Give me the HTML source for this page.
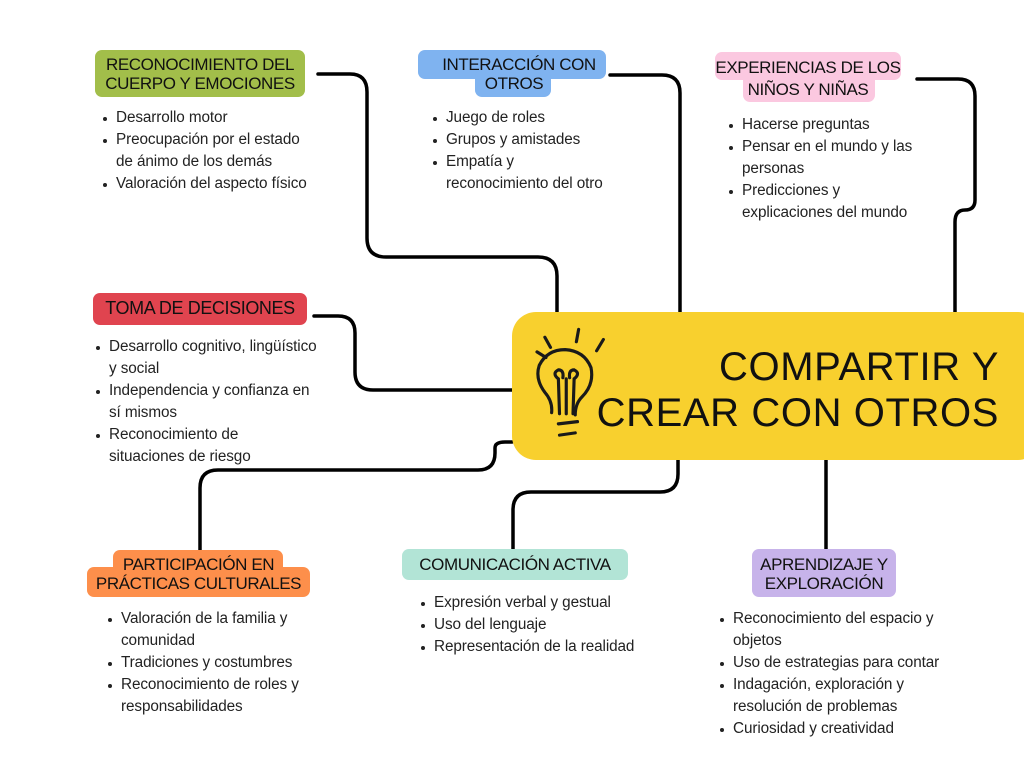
<!DOCTYPE html>
<html><head><meta charset="utf-8"><style>
body{margin:0;width:1024px;height:768px;background:#fff;position:relative;overflow:hidden;font-family:"Liberation Sans",sans-serif;color:#111}
.b{position:absolute}
.t{position:absolute;font-size:17px;line-height:19px;text-align:center;white-space:nowrap;letter-spacing:-0.4px}
.l{position:absolute;font-size:15.3px;line-height:22px;white-space:nowrap;color:#222;letter-spacing:-0.1px}
.l div{position:relative}
.l .d::before{content:"";position:absolute;left:-13px;top:10px;width:4px;height:4px;border-radius:2px;background:#222}
</style></head><body>
<svg class="b" style="left:0;top:0" width="1024" height="768">
<g fill="none" stroke="#000" stroke-width="3.5" stroke-linecap="round">
<path d="M318 74 H350 Q367 74 367 92 V238 Q367 257 386 257 H538 Q557 257 557 276 V312"/>
<path d="M610 75 H662 Q680 75 680 93 V312"/>
<path d="M917 79 H958 Q975 79 975 96 V200 Q975 210 965 210 Q955 210 955 222 V312"/>
<path d="M314 316 H338 Q355 316 355 333 V372 Q355 390 373 390 H512"/>
<path d="M200 550 V488 Q200 470 218 470 H478 Q495 470 495 453 V448 Q495 442 505 442 H512"/>
<path d="M513 550 V510 Q513 492 531 492 H660 Q678 492 678 474 V460"/>
<path d="M826 460 V550"/>
</g>
</svg>
<!-- central -->
<div class="b" style="left:512px;top:312px;width:530px;height:148px;background:#f8d02e;border-radius:24px"></div>
<svg class="b" style="left:528px;top:322px" width="90" height="125" viewBox="0 0 80 110" fill="none" stroke="#1a1a1a" stroke-width="2.8" stroke-linecap="round">
<path d="M15 13 L20 22 M45 6 L43 17 M67 15 L61 25 M8 26 L16 31"/>
<path d="M21 80 Q22 70 15 62 Q6 50 10 38 Q17 24 33 24 Q50 25 56 40 Q59 55 48 66 Q42 72 42 82"/>
<path d="M28 81 L27 50 M34 81 L34 50 M40 81 L41 50 M27 50 Q21 45 27 42 Q32 42 31 49 M41 50 Q47 45 41 42 Q36 42 37 49"/>
<path d="M27 90 L44 88 M28 100 L42 98"/>
</svg>
<div class="b" style="right:25px;top:344px;font-size:40px;line-height:46px;text-align:right;color:#111;letter-spacing:0.6px">COMPARTIR Y<br>CREAR CON OTROS</div>

<!-- green -->
<div class="b" style="left:95px;top:50px;width:210px;height:47px;background:#a2be4a;border-radius:7px"></div>
<div class="t" style="left:95px;top:55px;width:210px">RECONOCIMIENTO DEL<br>CUERPO Y EMOCIONES</div>
<div class="l" style="left:116px;top:107px"><div class="d">Desarrollo motor</div><div class="d">Preocupación por el estado</div><div>de ánimo de los demás</div><div class="d">Valoración del aspecto físico</div></div>

<!-- blue -->
<div class="b" style="left:418px;top:50px;width:188px;height:29px;background:#7fb3f0;border-radius:7px"></div>
<div class="b" style="left:475px;top:70px;width:76px;height:27px;background:#7fb3f0;border-radius:7px"></div>
<div class="t" style="left:425px;top:55px;width:188px">INTERACCIÓN CON<br><span style="margin-left:-10px">OTROS</span></div>
<div class="l" style="left:446px;top:107px"><div class="d">Juego de roles</div><div class="d">Grupos y amistades</div><div class="d">Empatía y</div><div>reconocimiento del otro</div></div>

<!-- pink -->
<div class="b" style="left:715px;top:52px;width:186px;height:28px;background:#fbc8e0;border-radius:7px"></div>
<div class="b" style="left:743px;top:72px;width:132px;height:30px;background:#fbc8e0;border-radius:7px"></div>
<div class="t" style="left:715px;top:57px;width:186px;line-height:22px">EXPERIENCIAS DE LOS<br>NIÑOS Y NIÑAS</div>
<div class="l" style="left:742px;top:114px"><div class="d">Hacerse preguntas</div><div class="d">Pensar en el mundo y las</div><div>personas</div><div class="d">Predicciones y</div><div>explicaciones del mundo</div></div>

<!-- red -->
<div class="b" style="left:93px;top:293px;width:214px;height:32px;background:#e0444f;border-radius:7px"></div>
<div class="t" style="left:93px;top:299px;width:214px;font-size:18px">TOMA DE DECISIONES</div>
<div class="l" style="left:109px;top:336px"><div class="d">Desarrollo cognitivo, lingüístico</div><div>y social</div><div class="d">Independencia y confianza en</div><div>sí mismos</div><div class="d">Reconocimiento de</div><div>situaciones de riesgo</div></div>

<!-- orange -->
<div class="b" style="left:113px;top:550px;width:170px;height:25px;background:#fd8f4b;border-radius:7px"></div>
<div class="b" style="left:87px;top:567px;width:223px;height:30px;background:#fd8f4b;border-radius:7px"></div>
<div class="t" style="left:87px;top:555px;width:223px">PARTICIPACIÓN EN<br>PRÁCTICAS CULTURALES</div>
<div class="l" style="left:121px;top:608px"><div class="d">Valoración de la familia y</div><div>comunidad</div><div class="d">Tradiciones y costumbres</div><div class="d">Reconocimiento de roles y</div><div>responsabilidades</div></div>

<!-- teal -->
<div class="b" style="left:402px;top:549px;width:226px;height:31px;background:#b2e4d6;border-radius:7px"></div>
<div class="t" style="left:402px;top:555px;width:226px">COMUNICACIÓN ACTIVA</div>
<div class="l" style="left:434px;top:592px"><div class="d">Expresión verbal y gestual</div><div class="d">Uso del lenguaje</div><div class="d">Representación de la realidad</div></div>

<!-- purple -->
<div class="b" style="left:752px;top:549px;width:144px;height:48px;background:#c7b3ea;border-radius:7px"></div>
<div class="t" style="left:752px;top:555px;width:144px">APRENDIZAJE Y<br>EXPLORACIÓN</div>
<div class="l" style="left:733px;top:608px"><div class="d">Reconocimiento del espacio y</div><div>objetos</div><div class="d">Uso de estrategias para contar</div><div class="d">Indagación, exploración y</div><div>resolución de problemas</div><div class="d">Curiosidad y creatividad</div></div>
</body></html>
